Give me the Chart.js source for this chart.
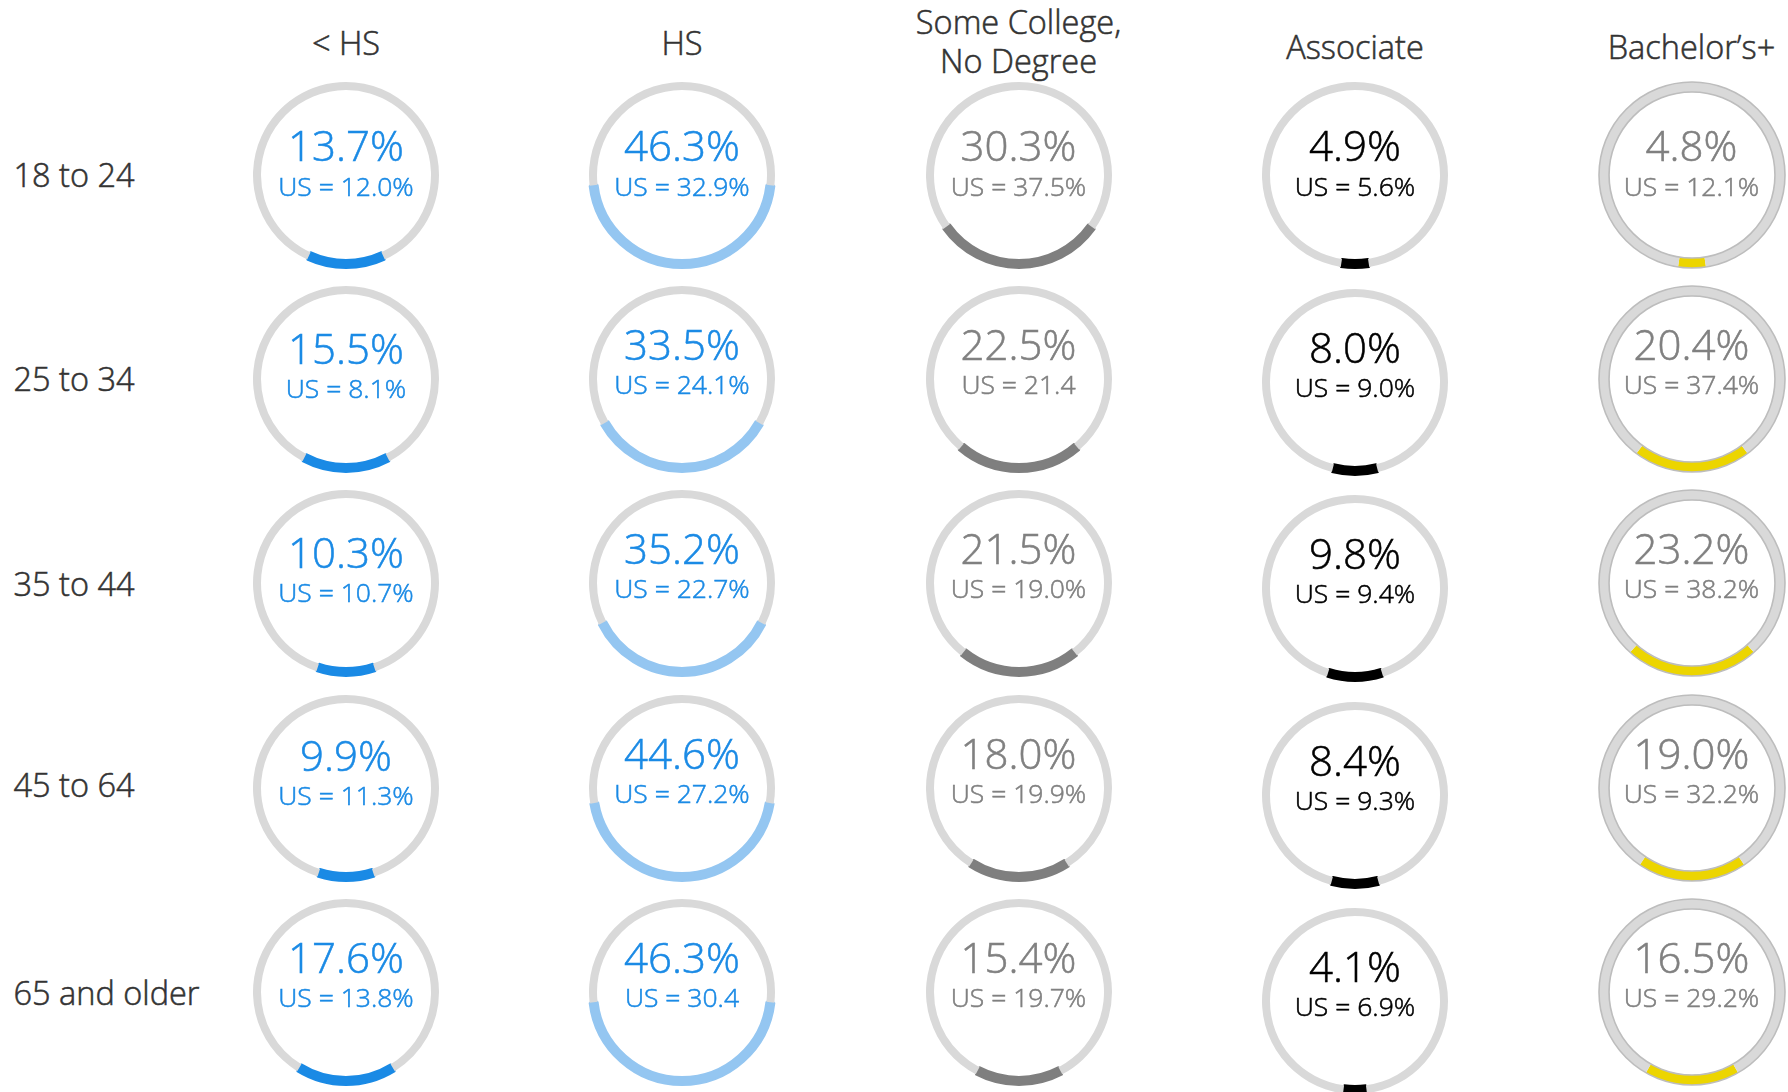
<!DOCTYPE html>
<html><head><meta charset="utf-8">
<script src="https://cdn.jsdelivr.net/npm/chart.js@4.4.1/dist/chart.umd.min.js"></script>
<style>
html,body{margin:0;padding:0;background:#fff;}
#stage{position:relative;width:1788px;height:1092px;overflow:hidden;font-family:"Open Sans",sans-serif;font-weight:350;}
.lbl{position:absolute;white-space:pre;transform:translate(-50%,-50%);text-align:center;line-height:1;-webkit-text-stroke:0.55px currentColor;}
.row{position:absolute;white-space:nowrap;transform:translateY(-50%);line-height:1;-webkit-text-stroke:0.55px currentColor;}
canvas{position:absolute;}
</style></head><body><div id="stage"></div>
<script>
// ---------- data ----------
const educationLevels = ['< HS', 'HS', 'Some College,\nNo Degree', 'Associate', 'Bachelor\u2019s+'];
const ageGroups = ['18 to 24', '25 to 34', '35 to 44', '45 to 64', '65 and older'];
const lessThanHS  = [13.7, 15.5, 10.3, 9.9, 17.6];
const highSchool  = [46.3, 33.5, 35.2, 44.6, 46.3];
const someCollege = [30.3, 22.5, 21.5, 18.0, 15.4];
const associate   = [4.9, 8.0, 9.8, 8.4, 4.1];
const bachelors   = [4.8, 20.4, 23.2, 19.0, 16.5];
const usLessThanHS  = ['US = 12.0%', 'US = 8.1%', 'US = 10.7%', 'US = 11.3%', 'US = 13.8%'];
const usHighSchool  = ['US = 32.9%', 'US = 24.1%', 'US = 22.7%', 'US = 27.2%', 'US = 30.4'];
const usSomeCollege = ['US = 37.5%', 'US = 21.4', 'US = 19.0%', 'US = 19.9%', 'US = 19.7%'];
const usAssociate   = ['US = 5.6%', 'US = 9.0%', 'US = 9.4%', 'US = 9.3%', 'US = 6.9%'];
const usBachelors   = ['US = 12.1%', 'US = 37.4%', 'US = 38.2%', 'US = 32.2%', 'US = 29.2%'];

const seriesValues = [lessThanHS, highSchool, someCollege, associate, bachelors];
const seriesUS = [usLessThanHS, usHighSchool, usSomeCollege, usAssociate, usBachelors];

// ---------- style / layout ----------
const TRACK = '#d9d9d9';
const colStyle = [
  {text:'#1a8ae5', arc:'#1a8ae5', outline:null},
  {text:'#1a8ae5', arc:'#94c6f1', outline:null},
  {text:'#808080', arc:'#7f7f7f', outline:null},
  {text:'#000000', arc:'#000000', outline:null},
  {text:'#808080', arc:'#ecd500', outline:'#bdbdbd'}
];
const colX = [346, 682, 1018.5, 1355, 1691.5];
const rowY = [175, 379, 583, 787.5, 991.5];
const assocRowY = [175, 381.5, 588, 794.5, 1001];
const headerY = [43, 43, 42, 47, 47];
const rowLabelY = [174.5, 378.6, 583.8, 784.5, 993];
const pctDy = [-30, -35, -35, -35, -35];
const usDy = [10.5, 5, 5, 5, 5];
const firstColExtra = [0, 4, 4, 2, 0];

const stage = document.getElementById('stage');

function addText(cls, txt, x, y, size, color, extra) {
  const d = document.createElement('div');
  d.className = cls;
  d.textContent = txt;
  d.style.left = x + 'px';
  d.style.top = y + 'px';
  d.style.fontSize = size + 'px';
  d.style.color = color;
  if (extra) Object.assign(d.style, extra);
  stage.appendChild(d);
  return d;
}

educationLevels.forEach((h, c) => {
  addText('lbl', h, colX[c], headerY[c], 32.5, '#333333', {lineHeight: '38.6px'});
});
ageGroups.forEach((a, r) => {
  addText('row', a, 13.5, rowLabelY[r], 32.5, '#333333');
});

const outlinePlugin = {
  id: 'ringOutline',
  afterDatasetsDraw(chart, args, opts) {
    if (!opts || !opts.color) return;
    const arc = chart.getDatasetMeta(0).data[0];
    const p = arc.getProps(['x', 'y', 'outerRadius', 'innerRadius'], true);
    const ctx = chart.ctx;
    ctx.save();
    ctx.strokeStyle = opts.color;
    ctx.lineWidth = opts.width;
    ctx.beginPath(); ctx.arc(p.x, p.y, p.outerRadius, 0, Math.PI * 2); ctx.stroke();
    ctx.beginPath(); ctx.arc(p.x, p.y, p.innerRadius, 0, Math.PI * 2); ctx.stroke();
    ctx.restore();
  }
};

const SIZE = 200;
seriesValues.forEach((vals, c) => {
  const st = colStyle[c];
  vals.forEach((v, r) => {
    const cx = colX[c];
    const cy = (c === 3 ? assocRowY : rowY)[r];
    const cv = document.createElement('canvas');
    cv.width = SIZE; cv.height = SIZE;
    cv.style.width = SIZE + 'px'; cv.style.height = SIZE + 'px';
    cv.style.left = (cx - SIZE / 2) + 'px';
    cv.style.top = (cy - SIZE / 2) + 'px';
    stage.appendChild(cv);
    const outlined = !!st.outline;
    new Chart(cv, {
      type: 'doughnut',
      data: {
        labels: ['value', 'rest'],
        datasets: [{
          data: [v, 100 - v],
          backgroundColor: [st.arc, TRACK],
          borderColor: [st.arc, TRACK],
          borderWidth: outlined ? [0, 0] : [2, 0],
          hoverOffset: 0
        }]
      },
      options: {
        responsive: false,
        animation: false,
        devicePixelRatio: 1,
        events: [],
        rotation: 180 - v * 1.8,
        cutout: outlined ? '89.2%' : '91.4%',
        layout: {padding: outlined ? 7 : 6},
        plugins: {
          legend: {display: false},
          tooltip: {enabled: false},
          ringOutline: outlined ? {color: st.outline, width: 1.6} : false
        }
      },
      plugins: [outlinePlugin]
    });
    const extra = c === 0 ? firstColExtra[r] : 0;
    addText('lbl', v.toFixed(1) + '%', cx, cy + pctDy[r] + extra, 42, st.text);
    addText('lbl', seriesUS[c][r], cx, cy + usDy[r] + extra, 26.5, st.text);
  });
});
</script>
</body></html>
